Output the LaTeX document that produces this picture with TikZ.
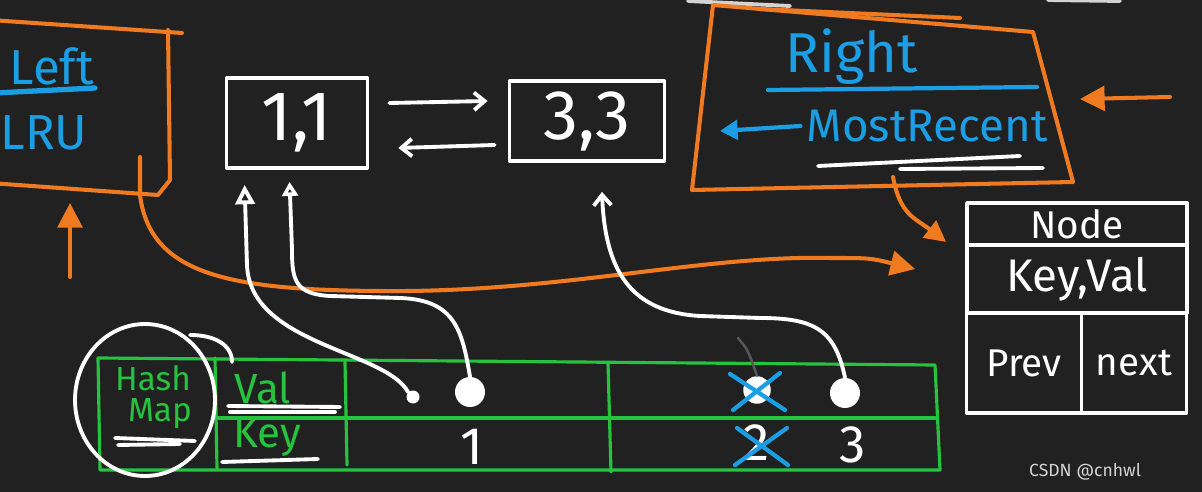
\documentclass[tikz,border=0pt]{standalone}
\usepackage{fontspec}
\setmainfont{Fira Sans}
\usetikzlibrary{arrows.meta}

\definecolor{board}{RGB}{33,33,33}
\definecolor{orng}{RGB}{240,122,32}
\definecolor{sky}{RGB}{28,158,228}
\definecolor{grn}{RGB}{38,196,62}

\begin{document}
\begin{tikzpicture}[x=0.02cm,y=-0.02cm,line cap=round,line join=round,
    chalk/.style={draw=white,line width=2.2pt},
    marker/.style={draw=orng,line width=2.3pt},
    bluepen/.style={draw=sky,line width=2.4pt},
    greenpen/.style={draw=grn,line width=1.8pt},
    entry/.style={draw=white,line width=2.2pt,minimum width=2.82cm,minimum height=1.8cm,
        text=white,font=\fontsize{40}{40}\selectfont},
    cell/.style={draw=white,line width=2.2pt,text=white,inner sep=0pt},
    bluetxt/.style={text=sky,font=\fontsize{28}{28}\selectfont},
    greentxt/.style={text=grn,inner sep=1pt,font=\fontsize{22}{22}\selectfont},
    numtxt/.style={text=white,font=\fontsize{30}{30}\selectfont},
    dot/.style={circle,fill=white,inner sep=0pt,minimum size=0.6cm},
    whitetip/.style={-{Triangle[open,length=11pt,width=11pt]}},
    orngtip/.style={-{Triangle[length=14pt,width=14pt]}}]

    % Background
    \useasboundingbox (0,0) rectangle (1202,492);
    \fill[board] (0,0) rectangle (1202,492);
    \draw[chalk,draw=white!80!board] (688,1) -- (790,6);
    \draw[chalk,draw=white!80!board] (1048,0) -- (1120,1);

    % Left frame (LRU side)
    \draw[marker] (-10,20) -- (182,33);
    \draw[marker] (168,30) -- (170,180) -- (158,195) -- (-10,183);
    \node[bluetxt] (left) at (52,66) {Left};
    \draw[bluepen,line width=3pt] (-5,93) -- (95,88);
    \node[bluetxt] (lru) at (44,133) {LRU};
    \coordinate (lefttail) at (70,277);
    \coordinate (lefthead) at (70,203);
    \draw[marker,orngtip] (lefttail) -- (lefthead);

    % Right frame (most recent side)
    \draw[marker] (713,5) -- (1033,32) -- (1073,182) -- (692,190) -- cycle;
    \draw[marker] (760,9) -- (960,18);
    \node[bluetxt,font=\fontsize{32}{32}\selectfont] (right) at (852,57) {Right};
    \draw[bluepen] (768,90) -- (1037,87);
    \node[bluetxt,font=\fontsize{26}{26}\selectfont] (recent) at (927,126) {MostRecent};
    \draw[chalk] (818,166) -- (1020,156);
    \draw[chalk] (900,169) -- (1043,168);
    \draw[bluepen,-{Triangle[length=10pt,width=11pt]}] (recent.west) -- (720,131);
    \coordinate (righttail) at (1170,97);
    \coordinate (righthead) at (1080,99);
    \draw[marker,orngtip] (righttail) -- (righthead);

    % Linked list
    \node[entry] (one) at (297,123) {1,1};
    \node[entry,minimum width=3.1cm,minimum height=1.6cm] (three) at (587,121) {3,3};
    \draw[chalk,-{Straight Barb[length=6pt,width=10pt]}]
        ([xshift=0.4cm,yshift=0.4cm]one.east) -- ([xshift=-0.4cm,yshift=0.4cm]three.west);
    \draw[chalk,-{Straight Barb[length=6pt,width=10pt]}]
        ([xshift=-0.26cm,yshift=-0.48cm]three.west) -- ([xshift=0.58cm,yshift=-0.5cm]one.east);

    % Node layout
    \node[cell,minimum width=4.4cm,minimum height=0.84cm,font=\fontsize{22}{22}\selectfont]
        (hdr) at (1077,224) {Node};
    \node[cell,minimum width=4.4cm,minimum height=1.36cm,font=\fontsize{26}{26}\selectfont]
        (kv) at (1077,279) {Key,Val};
    \node[cell,minimum width=2.3cm,minimum height=2cm,font=\fontsize{22}{22}\selectfont]
        (prev) at (1024,363) {Prev};
    \node[cell,minimum width=2.1cm,minimum height=2cm,font=\fontsize{22}{22}\selectfont]
        (next) at (1134,363) {next};
    \coordinate (rbot) at (893,177);
    \draw[marker,-{Triangle[length=12pt,width=12pt]}] (rbot) .. controls (900,215) and (915,218)
        .. ([xshift=-0.38cm,yshift=0.1cm]hdr.south west);
    \coordinate (lcurve) at (140,157);
    \draw[marker,orngtip] (lcurve) -- (140,195) .. controls (150,275) and (230,290) .. (380,291)
        .. controls (560,293) and (700,255) .. (830,258) .. controls (870,258) ..
        ([xshift=-1cm,yshift=0.2cm]kv.west);

    % Hash map
    \draw[greenpen] (98,358) -- (935,365) -- (940,470) -- (100,470) -- cycle;
    \draw[greenpen] (215,358) -- (217,468);
    \draw[greenpen] (345,362) -- (347,465);
    \draw[greenpen] (608,363) -- (611,472);
    \draw[greenpen] (215,418) -- (935,418);
    \node[greentxt,font=\fontsize{19}{19}\selectfont] (hash) at (153,378) {Hash};
    \node[greentxt,font=\fontsize{19}{19}\selectfont] (map) at (160,414) {Map};
    \draw[chalk] (115,438) -- (195,441);
    \draw[chalk] (118,445) -- (180,444);
    \node[greentxt,font=\fontsize{24}{24}\selectfont] (val) at (263,388) {Val};
    \draw[chalk] (228,406) -- (340,407);
    \draw[chalk] (230,412) -- (335,412);
    \node[greentxt,font=\fontsize{24}{24}\selectfont] (key) at (267,437) {Key};
    \draw[chalk] (222,462) -- (318,459);
    \draw[chalk] (145,400) ellipse [x radius=1.4cm,y radius=1.52cm];
    \draw[chalk] (190,335) .. controls (215,335) and (232,345) .. (232,362);

    % Values and keys
    \node[dot,minimum size=0.26cm] (v1old) at (413,397) {};
    \node[dot] (v1) at (470,392) {};
    \node[dot,minimum size=0.55cm] (v2) at (757,390) {};
    \node[dot] (v3) at (845,393) {};
    \node[numtxt] (k1) at (472,447) {1};
    \node[numtxt] (k2) at (757,443) {2};
    \node[numtxt] (k3) at (853,445) {3};
    \draw[white!25!board,line width=1.4pt] (738,338) .. controls (748,350) .. (v2.north);
    \draw[bluepen] (730,374) -- (785,410);
    \draw[bluepen] (733,410) -- (780,373);
    \draw[bluepen] (737,428) -- (788,465);
    \draw[bluepen] (735,465) -- (787,428);

    % Pointers from the map into the list
    \draw[chalk,whitetip] (v1old.north west) .. controls (385,350) and (250,345) .. (247,265)
        -- ([xshift=0.4cm,yshift=-0.3cm]one.south west);
    \draw[chalk,-{Triangle[open,length=8pt,width=9pt]}] (v1.north) .. controls (462,330) and (455,300)
        .. (400,298) -- (330,296) .. controls (295,294) and (292,280) .. (292,250)
        -- ([xshift=1.3cm,yshift=-0.24cm]one.south west);
    \draw[chalk,-{Straight Barb[length=6pt,width=10pt]}] (v3.north) .. controls (835,330) and (815,318)
        .. (760,318) -- (700,316) .. controls (630,312) and (605,270)
        .. ([xshift=0.3cm,yshift=-0.58cm]three.south);

    \node[text=white!80!board,font=\fontsize{10}{12}\selectfont] (mark) at (1085,472) {CSDN @cnhwl};
\end{tikzpicture}
\end{document}
